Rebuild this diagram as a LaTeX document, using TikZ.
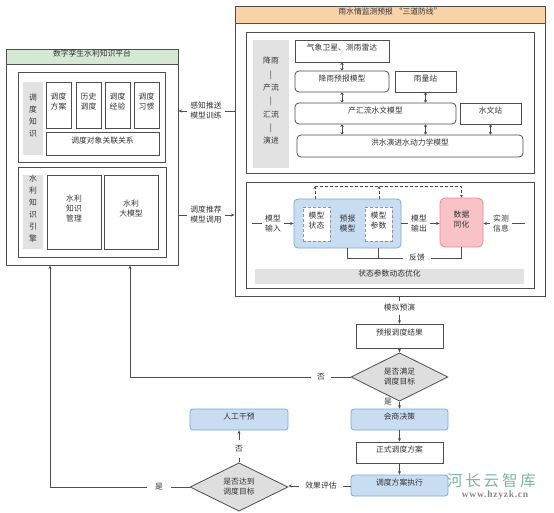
\documentclass[tikz,border=0pt]{standalone}
\usepackage{fontspec}
\setmainfont{Noto Sans CJK SC}
\newfontfamily\wmcjk[LetterSpace=18]{Noto Sans CJK SC}
\newfontfamily\wmserif[LetterSpace=8]{Liberation Serif}
\usetikzlibrary{arrows.meta,shapes.geometric,fit,calc}
\definecolor{ln}{HTML}{4D4D4D}
\definecolor{txt}{HTML}{333333}
\definecolor{grn}{HTML}{D5E8D4}
\definecolor{org}{HTML}{F9D3A8}
\definecolor{gry}{HTML}{E2E2E2}
\definecolor{blu}{HTML}{C8DCF2}
\definecolor{bluD}{HTML}{7FA8D9}
\definecolor{pnk}{HTML}{F8C2C6}
\definecolor{pnkD}{HTML}{E48E95}
\definecolor{dia}{HTML}{DEDEDE}
\definecolor{wmc}{HTML}{7DB5A2}
\definecolor{wms}{HTML}{8A8A8A}
\begin{document}
\begin{tikzpicture}[x=1pt,y=-1pt,
  every node/.style={font=\fontsize{7.8}{10}\selectfont, text=txt, inner sep=0pt, align=center},
  bx/.style={draw=ln, line width=0.8pt, fill=white},
  rbx/.style={bx, rounded corners=4pt},
  frame/.style={draw=ln, line width=1pt, fill=white},
  lab/.style={fill=gry},
  vt/.style={font=\fontsize{7.8}{12}\selectfont},
  vt2/.style={font=\fontsize{7.8}{13.3}\selectfont},
  bl/.style={draw=bluD, line width=0.8pt, fill=blu, rounded corners=4pt},
  dm/.style={diamond, draw=ln, line width=0.8pt, fill=dia},
  ar/.style={draw=ln, line width=0.8pt, -{Stealth[length=3.5pt,width=3pt]}},
  cn/.style={draw=ln, line width=0.8pt},
  dbl/.style={draw=ln, line width=0.7pt, {Stealth[length=2.5pt,width=3.5pt]}-{Stealth[length=2.5pt,width=3.5pt]}},
  dsh/.style={draw=ln, line width=0.7pt, densely dashed},
  elab/.style={inner sep=3pt},
]
\useasboundingbox[fill=white] (0,0) rectangle (554,512);

% ---------------- left platform ----------------
\node[frame, fit={(6,49)(178,265)}] (L) {};
\node[draw=ln, line width=1pt, fill=grn, fit={(6,49)(178,64)}] (Lh) {数字孪生水利知识平台};
\node[bx, fit={(18,72)(165,162)}] (K1) {};
\node[lab, vt, fit={(23,82)(43,155)}] (G1) {调\\度\\知\\识};
\node[bx, fit={(46,82)(71,128)}] (s1) {调度\\方案};
\node[bx, fit={(76,82)(101,128)}] (s2) {历史\\调度};
\node[bx, fit={(105,82)(130,128)}] (s3) {调度\\经验};
\node[bx, fit={(134,82)(159,128)}] (s4) {调度\\习惯};
\node[bx, fit={(46,132)(159,155)}] (s5) {调度对象关联关系};
\node[bx, fit={(18,167)(166,257)}] (K2) {};
\node[lab, vt, fit={(23,175)(43,249)}] (G2) {水\\利\\知\\识\\引\\擎};
\node[bx, fit={(47,175)(101,249)}] (m1) {水利\\知识\\管理};
\node[bx, fit={(104,175)(158,249)}] (m2) {水利\\大模型};

% ---------------- right box ----------------
\node[frame, fit={(235,6)(545,296)}] (R) {};
\node[draw=ln, line width=1pt, fill=org, fit={(235,6)(545,23)}] (Rh) {雨水情监测预报 “三道防线”};
\node[bx, fit={(246,32)(534,173)}] (T) {};
\node[lab, vt2, fit={(253,40)(289,168)}] (G3) {降雨\\|\\产流\\|\\汇流\\|\\演进};
\node[bx, fit={(295,40)(389,62)}] (b1) {气象卫星、测雨雷达};
\node[rbx, fit={(295,71)(389,92)}] (b2) {降雨预报模型};
\node[bx, fit={(395,71)(456,92)}] (b3) {雨量站};
\node[rbx, fit={(295,103)(456,124)}] (b4) {产汇流水文模型};
\node[bx, fit={(460,103)(521,124)}] (b5) {水文站};
\node[rbx, fit={(297,135)(523,157)}] (b6) {洪水演进水动力学模型};
\draw[dbl] (b1.south) -- (b2.north);
\draw[dbl] (b2.south) -- (b2.south |- b4.north);
\draw[dbl] (b3.south) -- (b3.south |- b4.north);
\draw[dbl] (b2.south |- b4.south) -- (b2.south |- b6.north);
\draw[dbl] (b3.south |- b4.south) -- (b3.south |- b6.north);
\draw[dbl] (b5.south) -- (b5.south |- b6.north);

\node[bx, fit={(246,182)(534,288)}] (B) {};
\node[bl, fit={(294,199)(401,248)}] (P) {};
\node[draw=ln!60, line width=0.6pt, densely dashed, fill=white, fit={(303,207)(330,241)}] (ms) {模型\\状态};
\node[draw=ln!60, line width=0.6pt, densely dashed, fill=white, fit={(365,207)(392,241)}] (mp) {模型\\参数};
\node (pm) at (347.5,223.5) {预报\\模型};
\node[draw=pnkD, line width=0.8pt, fill=pnk, rounded corners=5pt, fit={(440,198)(483,247)}] (da) {数据\\同化};
\node[elab] (in) at (273,223.5) {模型\\输入};
\node[elab] (out) at (419,223.5) {模型\\输出};
\node[elab] (obs) at (501,223.5) {实测\\信息};
\coordinate (inL) at (252,223.5);
\coordinate (obsR) at (525,223.5);
\draw[cn] (inL) -- (in.west);
\draw[ar] (in.east) -- (P.west |- in.east);
\draw[cn] (P.east |- out.west) -- (out.west);
\draw[ar] (out.east) -- (da.west |- out.east);
\draw[ar] (obs.west) -- (da.east |- obs.west);
\draw[cn] (obs.east) -- (obsR);

\coordinate (t1) at (315,186);
\coordinate (t2) at (379,186);
\coordinate (t3) at (461.5,186);
\draw[dsh, -{Stealth[length=3pt,width=3pt]}] (P.north -| t1) -- (t1);
\draw[dsh, -{Stealth[length=3pt,width=3pt]}] (P.north -| t2) -- (t2);
\draw[dsh, -{Stealth[length=3pt,width=3pt]}] (t1) -- (t3) -- (da.north -| t3);

\node[elab, inner xsep=6pt] (fb) at (417,258) {反馈};
\coordinate (f1) at (347.5,258);
\coordinate (f2) at (378,258);
\coordinate (f3) at (461.5,258);
\draw[cn] (P.south -| f1) -- (f1) -- (fb.west);
\draw[cn] (P.south -| f2) -- (f2);
\draw[cn] (fb.east) -- (f3) -- (da.south -| f3);
\node[fill=gry, fit={(255,269)(524,284)}] (opt) {状态参数动态优化};

% ---------------- links between platform and right box ----------------
\node[elab] (sense) at (206,111) {感知推送\\模型训练};
\draw[cn] (R.west |- sense.east) -- (sense.east);
\draw[ar] (sense.west) -- (L.east |- sense.west);
\node[elab] (rec) at (206,215) {调度推荐\\模型调用};
\draw[cn] (L.east |- rec.west) -- (rec.west);
\draw[ar] (rec.east) -- (R.west |- rec.east);

% ---------------- bottom flow ----------------
\node[elab] (sim) at (399.5,308) {模拟预演};
\node[bx, fit={(356,324)(443,348)}] (res) {预报调度结果};
\draw[cn] (R.south -| sim.north) -- (sim.north);
\draw[ar] (sim.south) -- (res.north);
\node[dm, minimum width=97pt, minimum height=39pt] (d1) at (399.5,377) {是否满足\\调度目标};
\draw[ar] (res.south) -- (d1.north);
\node[elab, inner xsep=6pt] (no1) at (321,377) {否};
\coordinate (c1) at (130,377);
\draw[cn] (d1.west) -- (no1.east);
\draw[ar] (no1.west) -- (c1) -- (c1 |- L.south);
\node[bl, rounded corners=3pt, fit={(351,409)(448,430)}] (dec) {会商决策};
\draw[ar] (d1.south) -- (dec.north);
\node (yes1) at (388,401.5) {是};
\node[bx, fit={(356,442)(443,463)}] (plan) {正式调度方案};
\draw[ar] (dec.south) -- (plan.north);
\node[bl, rounded corners=3pt, fit={(351,475)(448,496)}] (exe) {调度方案执行};
\draw[ar] (plan.south) -- (exe.north);
\node[dm, minimum width=98pt, minimum height=38pt] (d2) at (239,487) {是否达到\\调度目标};
\node[elab, inner xsep=6pt] (eval) at (321,486) {效果评估};
\draw[cn] (exe.west |- eval.east) -- (eval.east);
\draw[ar] (eval.west) -- (d2.east |- eval.west);
\node[bl, rounded corners=3pt, fit={(190,409)(288,430)}] (man) {人工干预};
\node[elab, inner ysep=5pt] (no2) at (239,449) {否};
\draw[cn] (d2.north) -- (no2.south);
\draw[ar] (no2.north) -- (man.south);
\node[elab, inner xsep=8pt] (yes2) at (159,487) {是};
\coordinate (c2) at (50,487);
\draw[cn] (d2.west) -- (yes2.east);
\draw[ar] (yes2.west) -- (c2) -- (c2 |- L.south);

% ---------------- watermark ----------------
\node[text=wmc, font=\wmcjk\fontsize{15.5}{16}\selectfont] (wm1) at (491.5,481) {河长云智库};
\node[text=wms, font=\wmserif\bfseries\fontsize{9.5}{10}\selectfont] (wm2) at (495,495) {www.hzyzk.cn};
\end{tikzpicture}
\end{document}
